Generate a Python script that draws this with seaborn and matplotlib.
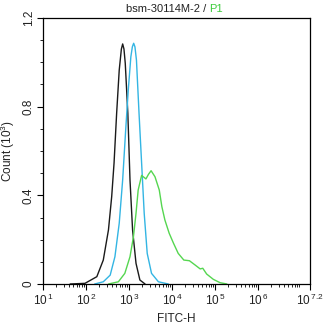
import numpy as np
import pandas as pd
import matplotlib
matplotlib.use("Agg")
import matplotlib.pyplot as plt
import seaborn as sns
from matplotlib.ticker import LogLocator, MultipleLocator, NullFormatter, FixedLocator

# log10(FITC-H) positions and counts (x10^3)
black_logx = [1.63, 1.975, 2.25, 2.40, 2.52, 2.595, 2.65, 2.71, 2.77, 2.82, 2.85, 2.88, 2.91, 2.97, 3.02, 3.08, 3.16, 3.25, 3.37]
black_y    = [0.0, 0.003, 0.033, 0.108, 0.244, 0.394, 0.546, 0.77, 0.965, 1.06, 1.083, 1.06, 0.996, 0.77, 0.47, 0.244, 0.093, 0.018, 0.0]

blue_logx = [2.2, 2.40, 2.56, 2.67, 2.77, 2.85, 2.92, 2.98, 3.04, 3.075, 3.105, 3.135, 3.17, 3.23, 3.29, 3.35, 3.42, 3.52, 3.68, 3.91]
blue_y    = [0.0, 0.01, 0.04, 0.123, 0.274, 0.47, 0.695, 0.875, 1.025, 1.07, 1.086, 1.07, 1.01, 0.77, 0.545, 0.319, 0.138, 0.048, 0.01, 0.0]

green_logx = [2.52, 2.75, 2.90, 3.02, 3.10, 3.16, 3.21, 3.29, 3.34, 3.39, 3.45, 3.51, 3.60, 3.70, 3.76, 3.83, 3.93, 4.03, 4.14, 4.27, 4.40, 4.53, 4.65, 4.71, 4.80, 4.955, 5.11, 5.27]
green_y    = [0.0, 0.01, 0.048, 0.123, 0.213, 0.319, 0.424, 0.49, 0.482, 0.474, 0.495, 0.511, 0.484, 0.424, 0.349, 0.289, 0.229, 0.184, 0.138, 0.108, 0.105, 0.086, 0.068, 0.071, 0.045, 0.021, 0.006, 0.0]

x_major = [1, 2, 3, 4, 5, 6, 7.2]
x_labels = ["1", "2", "3", "4", "5", "6", "7.2"]
y_major = [0, 0.4, 0.8, 1.2]
y_labels = ["0", "0.4", "0.8", "1.2"]

sns.set_style("ticks")
plt.rcParams['font.family'] = ['Liberation Sans', 'DejaVu Sans']
plt.rcParams['mathtext.fontset'] = 'custom'
plt.rcParams['mathtext.rm'] = 'Liberation Sans'

fig = plt.figure(figsize=(3.24, 3.27), dpi=100)
ax = fig.add_axes([43/324, 1 - 284/327, 267/324, 266/327])

series = [
    (black_logx, black_y, "#1a1a1a"),
    (blue_logx, blue_y, "#33b5e3"),
    (green_logx, green_y, "#55d650"),
]
for lx, yy, c in series:
    df = pd.DataFrame({"x": np.power(10.0, lx), "y": yy})
    sns.lineplot(data=df, x="x", y="y", color=c, linewidth=1.0, ax=ax)

ax.set_xscale("log")
ax.set_xlim(10, 10 ** 7.2)
ax.set_ylim(0, 1.2)
ax.xaxis.set_major_locator(FixedLocator([10 ** v for v in x_major]))
ax.set_xticklabels([r"$\mathregular{10^{\,%s}}$" % s for s in x_labels])
ax.xaxis.set_minor_locator(LogLocator(base=10, subs=np.arange(2, 10)))
ax.xaxis.set_minor_formatter(NullFormatter())
ax.set_yticks(y_major)
ax.set_yticklabels(y_labels, rotation=90, va="center")
ax.yaxis.set_minor_locator(MultipleLocator(0.1))

for s in ax.spines.values():
    s.set_linewidth(0.9)
    s.set_color("black")
ax.tick_params(axis="both", which="major", direction="out", length=4, width=0.8,
               labelsize=8.5, color="black", labelcolor="#222222", pad=2)
ax.tick_params(axis="both", which="minor", direction="out", length=2, width=0.6, color="black")

ax.set_xlabel("FITC-H", fontsize=8.5, color="#222222", labelpad=4)
ax.set_ylabel(r"Count $\mathregular{(10^3)}$", fontsize=8.5, color="#222222")
ax.yaxis.set_label_coords(-0.098, 0.5)

fig.text(209/324, 1 - 9/327, "bsm-30114M-2 / ", ha="right", va="center", fontsize=8, color="#222222")
fig.text(209/324, 1 - 9/327, "P1", ha="left", va="center", fontsize=8, color="#3ccc3c")

fig.savefig("out.png", dpi=100)
